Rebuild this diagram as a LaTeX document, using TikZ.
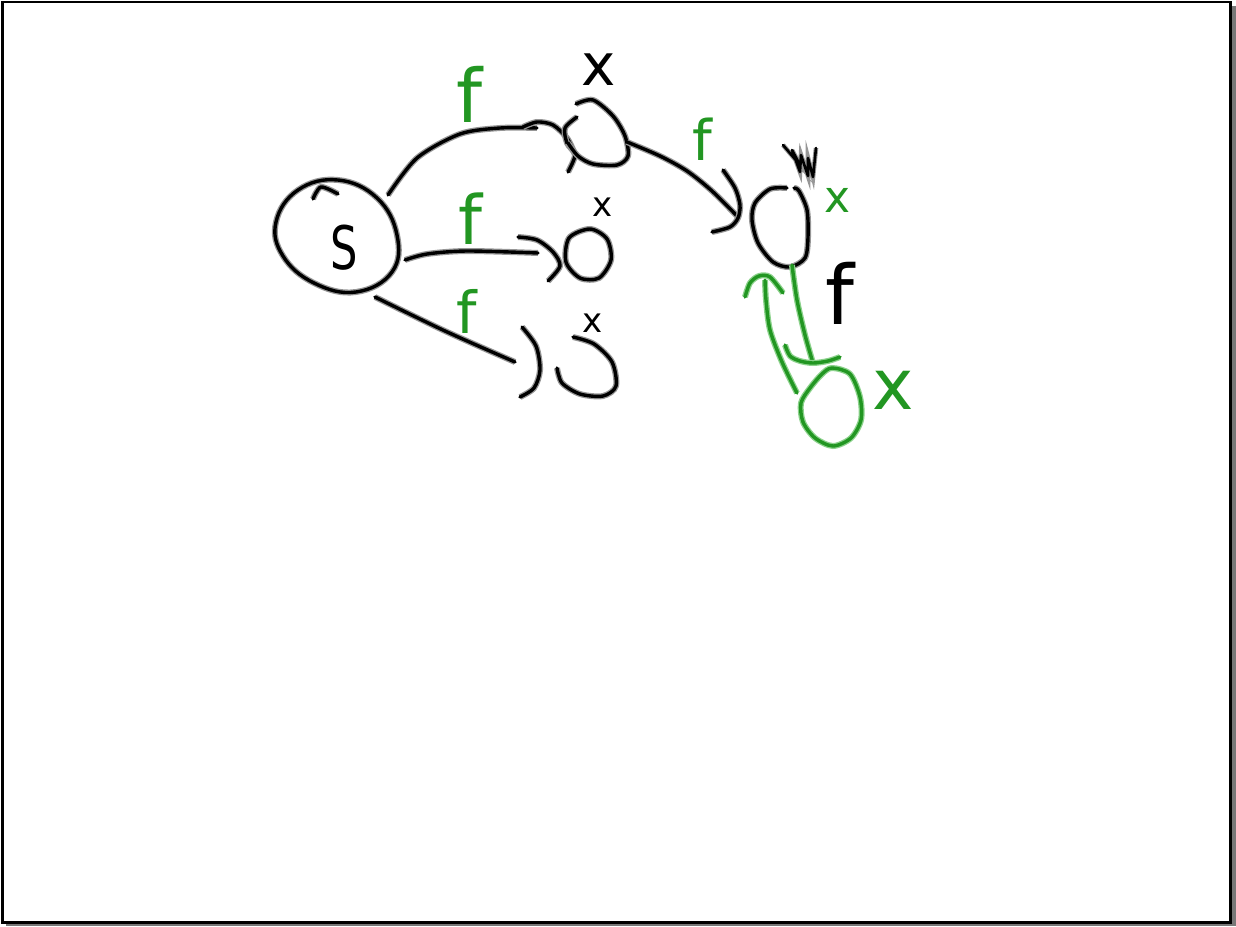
\documentclass[tikz,border=0pt]{standalone}
\usepackage{fontspec}
\setmainfont{DejaVu Sans}
\definecolor{grn}{RGB}{34,150,34}
\definecolor{grnhalo}{RGB}{140,210,140}
\definecolor{blkhalo}{RGB}{150,150,150}
\definecolor{shadow}{RGB}{120,120,120}
\begin{document}
\begin{tikzpicture}[x=1pt,y=-1pt,
  bk/.style={draw=black,line width=3.4pt,line cap=round,line join=round,preaction={draw=blkhalo,line width=6pt}},
  gn/.style={draw=grn,line width=3.4pt,line cap=round,line join=round,preaction={draw=grnhalo,line width=6pt}},
  lab/.style={inner sep=0pt,outer sep=0pt},
  fs/.style={font=\fontsize{#1}{#1}\selectfont}]
\useasboundingbox (0,0) rectangle (1236,926);
% frame with shadow
\fill[shadow] (1231,6) rectangle (1236,926);
\fill[shadow] (6,923) rectangle (1236,926);
\draw[line width=2.4pt] (2.5,2) rectangle (1230.5,922.5);

% S node
\draw[bk] plot[smooth cycle,tension=0.7] coordinates {(276,222) (298,190) (338,180) (377,198) (397,235) (392,272) (356,292) (314,283) (283,256)};
\draw[bk] plot[smooth] coordinates {(313,199) (321,187) (338,194)};
\node[lab,fs=60,xscale=0.72] (s) at (344,248) {S};

% top edge and node
\draw[bk] plot[smooth] coordinates {(388,195) (417,158) (460,134) (500,128) (537,128)};
\draw[bk] plot[smooth] coordinates {(523,127) (537,122) (553,125) (567,138) (574,152)};
\draw[bk] plot[smooth] coordinates {(577,117) (565,128) (567,143) (575,155) (568,172)};
\draw[bk] plot[smooth] coordinates {(576,104) (593,100) (613,116) (625,136) (628,156) (617,165) (593,164) (578,156) (568,143)};
\node[lab,fs=58] (xa) at (599,70) {x};
\node[lab,fs=74,text=grn] (fa) at (470,94) {f};

% middle edge and node
\draw[bk] plot[smooth] coordinates {(405,260) (427,254) (467,251) (538,253)};
\draw[bk] plot[smooth] coordinates {(518,237) (537,240) (553,252) (560,266) (548,281)};
\draw[bk] plot[smooth cycle] coordinates {(569,238) (590,229) (607,239) (611,260) (599,278) (580,278) (566,262)};
\node[lab,fs=34] (xb) at (603,207) {x};
\node[lab,fs=68,text=grn] (fb) at (470,219) {f};

% bottom edge and node
\draw[bk] plot[smooth] coordinates {(375,297) (445,331) (515,362)};
\draw[bk] plot[smooth] coordinates {(522,327) (536,346) (540,370) (534,388) (520,397)};
\draw[bk] plot[smooth] coordinates {(573,337) (594,344) (612,362) (616,386) (603,396) (580,394) (562,383) (557,368)};
\node[lab,fs=34] (xc) at (593,323) {x};
\node[lab,fs=58,text=grn] (fc) at (467,311) {f};

% edge to right node
\draw[bk] plot[smooth] coordinates {(627,142) (660,156) (687,171) (712,191) (738,217)};
\draw[bk] plot[smooth] coordinates {(723,170) (735,188) (740,205) (738,218) (730,227) (712,232)};
\node[lab,fs=56,text=grn] (fd) at (702,139) {f};

% right node
\draw[bk] plot[smooth] coordinates {(787,188) (770,189) (755,203) (752,220) (758,243) (773,262) (790,267) (805,258) (808,237) (807,210) (799,191) (794,188)};
\draw[draw=black,line width=2.6pt,line cap=round,line join=round,preaction={draw=blkhalo,line width=4.6pt}]
  (783,145) -- (800,165) -- (792,150) -- (800,172) -- (801,155) -- (808,176) -- (808,158) -- (813,177) -- (816,148);
\node[lab,fs=44,text=grn] (xd) at (838,200) {x};
\node[lab,fs=82] (fe) at (840,293) {f};

% green loop
\draw[gn] plot[smooth] coordinates {(792,265) (797,300) (805,335) (813,363)};
\draw[gn] plot[smooth] coordinates {(785,345) (790,356) (800,361) (813,363) (828,361) (840,357)};
\draw[gn] plot[smooth] coordinates {(797,393) (782,362) (770,330) (766,300) (765,280)};
\draw[gn] plot[smooth] coordinates {(745,297) (750,283) (759,276) (770,277) (783,293)};
\draw[gn] plot[smooth cycle] coordinates {(832,368) (850,374) (860,397) (861,420) (851,438) (833,446) (815,438) (803,422) (801,403) (810,388) (822,374)};
\node[lab,fs=70,text=grn] (xe) at (893,390) {x};
\end{tikzpicture}
\end{document}
